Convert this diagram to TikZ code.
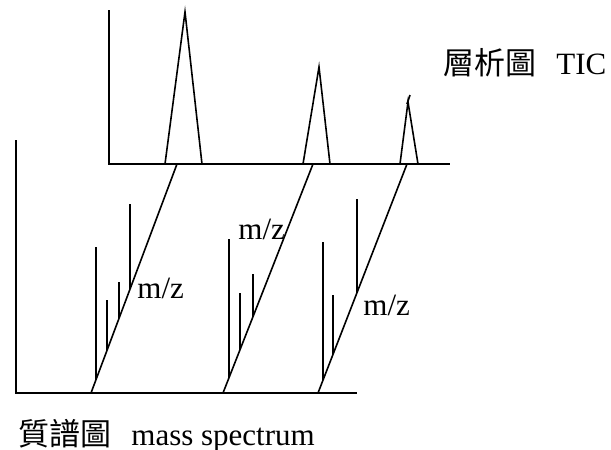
\documentclass[tikz,border=0pt]{standalone}
\usepackage{fontspec}
\setmainfont{Liberation Serif}
\newfontfamily\cjk{Noto Sans CJK TC}
\usetikzlibrary{positioning}

\begin{document}
\begin{tikzpicture}[
    x=0.5pt, y=-0.5pt,
    axis/.style={line width=0.8pt},
    peak/.style={line width=0.8pt},
    slant/.style={line width=0.8pt},
    mzline/.style={line width=0.8pt},
    caption/.style={anchor=base west, inner sep=0pt, font=\fontsize{15.5}{18}\selectfont},
    mzlabel/.style={anchor=base west, inner sep=0pt, font=\fontsize{15.5}{18}\selectfont}
]
\useasboundingbox (0,0) rectangle (611,450);

% chromatogram (TIC) axes and peaks
\draw[axis] (109,10) -- (109,164) -- (450,164);
\draw[peak] (165,164) -- (185,12) -- (202,164);
\draw[peak] (303,164) -- (319,67) -- (330,164);
\draw[peak] (400,164) -- (408,102) -- (418,164);
\draw[peak] (407,104) -- (410,95);
\node[caption] (tic) at (443,74) {{\cjk 層析圖}\hspace{10pt}TIC};

% mass spectrum axes
\draw[axis] (16,140) -- (16,393) -- (357,393);
\node[caption] (ms) at (18,445) {{\cjk 質譜圖}\hspace{10pt}mass spectrum};

% slanted m/z axes, one per peak: top x / bottom x
\foreach \xt/\xb in {177/91, 313/223, 407/318}
  \draw[slant] (\xt,164) -- (\xb,393);

% spectrum lines: x / top / slant top x / slant bottom x
\foreach \x/\h/\xt/\xb in {96/247/177/91, 107/300/177/91, 119/282/177/91, 130/204/177/91,
                           229/239/313/223, 240/293/313/223, 253/274/313/223,
                           323/242/407/318, 333/295/407/318, 357/199/407/318}
  \draw[mzline] (\x,\h) -- (\x,{164 + (\xt-\x)/(\xt-\xb)*229});

\node[mzlabel] (mz1) at (137,298) {m/z};
\node[mzlabel] (mz2) at (238,239) {m/z};
\node[mzlabel] (mz3) at (363,315) {m/z};
\end{tikzpicture}
\end{document}
